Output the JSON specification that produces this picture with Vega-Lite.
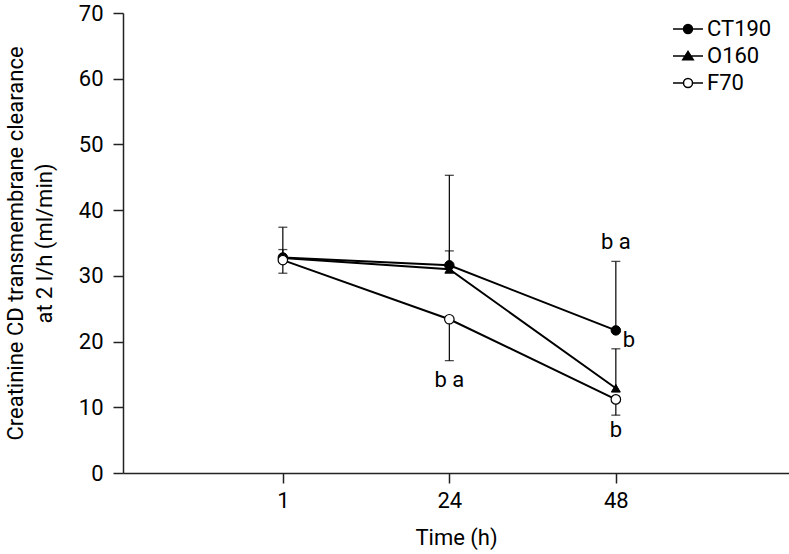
{
  "$schema": "https://vega.github.io/schema/vega-lite/v6.json",
  "autosize": "none",
  "width": 666,
  "height": 460,
  "padding": {"left": 123, "top": 13, "right": 0, "bottom": 81},
  "background": "white",
  "config": {
    "view": {"stroke": null},
    "font": "Roboto",
    "axis": {
      "domainColor": "#222",
      "domainWidth": 1.5,
      "tickColor": "#222",
      "tickWidth": 1.5,
      "tickSize": 10,
      "labelFont": "Roboto",
      "labelFontSize": 22,
      "labelColor": "black",
      "titleFont": "Roboto",
      "titleFontSize": 22,
      "titleFontWeight": "normal",
      "titleColor": "black",
      "grid": false
    },
    "legend": {
      "labelFont": "Roboto",
      "labelFontSize": 22,
      "labelColor": "black"
    }
  },
  "data": {
    "values": [
      {"series": "CT190", "time": 1, "mean": 32.8, "err": 37.4},
      {"series": "CT190", "time": 24, "mean": 31.6, "err": 45.3},
      {"series": "CT190", "time": 48, "mean": 21.7, "err": 32.2},
      {"series": "O160", "time": 1, "mean": 32.7, "err": 34.0},
      {"series": "O160", "time": 24, "mean": 31.0, "err": 33.8},
      {"series": "O160", "time": 48, "mean": 12.9, "err": 18.9},
      {"series": "F70", "time": 1, "mean": 32.4, "err": 30.4},
      {"series": "F70", "time": 24, "mean": 23.4, "err": 17.1},
      {"series": "F70", "time": 48, "mean": 11.2, "err": 8.8}
    ]
  },
  "encoding": {
    "x": {
      "field": "time",
      "type": "ordinal",
      "scale": {"type": "point", "padding": 1.04, "align": 0.48},
      "axis": {"title": "Time (h)", "labelAngle": 0, "labelPadding": 7, "titlePadding": 16}
    },
    "y": {
      "field": "mean",
      "type": "quantitative",
      "scale": {"domain": [0, 70], "nice": false, "zero": true},
      "axis": {
        "title": ["Creatinine CD transmembrane clearance", "at 2 l/h (ml/min)"],
        "values": [0, 10, 20, 30, 40, 50, 60, 70],
        "labelPadding": 10,
        "titlePadding": 22,
        "titleLineHeight": 29
      }
    }
  },
  "layer": [
    {
      "mark": {"type": "rule", "color": "black", "strokeWidth": 1.2},
      "encoding": {"y2": {"field": "err"}}
    },
    {
      "mark": {"type": "tick", "color": "black", "thickness": 1.3, "size": 9, "orient": "horizontal"},
      "encoding": {"y": {"field": "err", "type": "quantitative"}}
    },
    {
      "mark": {"type": "line", "color": "black", "strokeWidth": 2},
      "encoding": {"detail": {"field": "series"}}
    },
    {
      "transform": [{"filter": "datum.series == 'CT190'"}],
      "mark": {"type": "point", "shape": "circle", "filled": true, "fill": "black", "stroke": "black", "strokeWidth": 1, "size": 90, "opacity": 1}
    },
    {
      "transform": [{"filter": "datum.series == 'O160'"}],
      "mark": {"type": "point", "shape": "triangle-up", "filled": true, "fill": "black", "stroke": "black", "strokeWidth": 1, "size": 80, "opacity": 1}
    },
    {
      "transform": [{"filter": "datum.series == 'F70'"}],
      "mark": {"type": "point", "shape": "circle", "filled": true, "fill": "white", "stroke": "black", "strokeWidth": 1.2, "size": 90, "opacity": 1}
    },
    {
      "data": {
        "values": [
          {"time": 48, "pos": 35.2, "label": "b a", "side": "center"},
          {"time": 48, "pos": 20.2, "label": "b", "side": "right"},
          {"time": 24, "pos": 14.2, "label": "b a", "side": "center"},
          {"time": 48, "pos": 6.5, "label": "b", "side": "center"}
        ]
      },
      "transform": [{"filter": "datum.side == 'center'"}],
      "mark": {"type": "text", "font": "Roboto", "fontSize": 22, "color": "black", "baseline": "middle", "align": "center"},
      "encoding": {
        "y": {"field": "pos", "type": "quantitative"},
        "text": {"field": "label"}
      }
    },
    {
      "data": {
        "values": [
          {"time": 48, "pos": 35.2, "label": "b a", "side": "center"},
          {"time": 48, "pos": 20.2, "label": "b", "side": "right"},
          {"time": 24, "pos": 14.2, "label": "b a", "side": "center"},
          {"time": 48, "pos": 6.5, "label": "b", "side": "center"}
        ]
      },
      "transform": [{"filter": "datum.side == 'right'"}],
      "mark": {"type": "text", "font": "Roboto", "fontSize": 22, "color": "black", "baseline": "middle", "align": "center", "dx": 13},
      "encoding": {
        "y": {"field": "pos", "type": "quantitative"},
        "text": {"field": "label"}
      }
    },
    {
      "mark": {"type": "point", "filled": true, "stroke": "black", "strokeWidth": 1.5, "size": 0, "opacity": 0},
      "encoding": {
        "shape": {
          "field": "series",
          "type": "nominal",
          "scale": {
            "domain": ["CT190", "O160", "F70"],
            "range": [
              "M-1,0H-0.3M0.3,0H1M-0.3,0A0.3,0.3,0,1,1,0.3,0A0.3,0.3,0,1,1,-0.3,0Z",
              "M-1,0H1M0,-0.3L0.35,0.25L-0.35,0.25Z",
              "M-1,0H-0.3M0.3,0H1M-0.3,0A0.3,0.3,0,1,1,0.3,0A0.3,0.3,0,1,1,-0.3,0Z"
            ]
          },
          "legend": {
            "title": null,
            "orient": "none",
            "legendX": 549,
            "legendY": 0,
            "padding": 0,
            "symbolSize": 900,
            "symbolOpacity": 1,
            "labelOffset": 3,
            "rowPadding": -5,
            "encode": {
              "symbols": {
                "update": {
                  "stroke": {"value": "black"},
                  "strokeWidth": {"value": 1.5},
                  "opacity": {"value": 1}
                }
              }
            }
          }
        },
        "fill": {
          "field": "series",
          "type": "nominal",
          "scale": {"domain": ["CT190", "O160", "F70"], "range": ["black", "black", "white"]},
          "legend": {
            "title": null,
            "orient": "none",
            "legendX": 549,
            "legendY": 0,
            "padding": 0,
            "symbolSize": 900,
            "symbolOpacity": 1,
            "labelOffset": 3,
            "rowPadding": -5,
            "encode": {
              "symbols": {
                "update": {
                  "stroke": {"value": "black"},
                  "strokeWidth": {"value": 1.5},
                  "opacity": {"value": 1}
                }
              }
            }
          }
        }
      }
    }
  ]
}
